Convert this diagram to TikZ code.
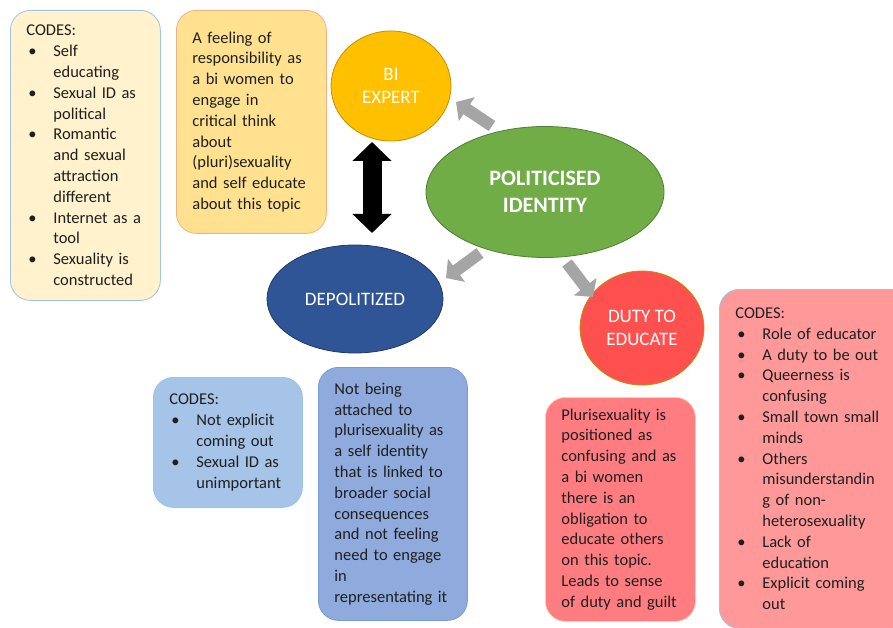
\documentclass[tikz,border=0pt]{standalone}
\usepackage{fontspec}
\setmainfont{Carlito}
\usetikzlibrary{shapes.geometric,arrows.meta}
\definecolor{txt}{HTML}{1F1F1F}
\definecolor{ylfill}{HTML}{FFF2CC}
\definecolor{lbborder}{HTML}{9DC3E6}
\definecolor{goldfill}{HTML}{FFE18F}
\definecolor{orborder}{HTML}{F4B183}
\definecolor{biexp}{HTML}{FFC000}
\definecolor{biexpb}{HTML}{BF9000}
\definecolor{polg}{HTML}{70AD47}
\definecolor{polgb}{HTML}{507E32}
\definecolor{depb}{HTML}{2F5597}
\definecolor{depbb}{HTML}{203864}
\definecolor{dutyr}{HTML}{FF5050}
\definecolor{blcodes}{HTML}{A6C4E8}
\definecolor{blnot}{HTML}{8FAADC}
\definecolor{blnotb}{HTML}{7A9AD6}
\definecolor{redbox}{HTML}{FF7C80}
\definecolor{redcodes}{HTML}{FF9999}
\definecolor{grayarr}{HTML}{A5A5A5}
\newcommand\bul{\makebox[27pt][l]{\hspace{2pt}\textbullet}}
\newcommand\ind{\hspace*{27pt}}
\tikzset{
  box/.style={rectangle, rounded corners=20pt, anchor=north west, align=left,
    inner xsep=16pt, inner ysep=4pt, text=txt, line width=0.8pt,
    font=\fontsize{16.5}{20.8}\selectfont},
  oval/.style={ellipse, inner sep=0pt, align=center, text=white, line width=0.8pt,
    font=\fontsize{19}{23}\selectfont},
  grayblock/.style={line width=12pt, draw=grayarr, -{Triangle[width=28pt,length=13pt]}},
  blackblock/.style={line width=19pt, draw=black, {Triangle[width=38pt,length=19pt]}-{Triangle[width=38pt,length=19pt]}}
}
\begin{document}
\begin{tikzpicture}[x=1pt,y=-1pt]
\useasboundingbox (0,0) rectangle (893,628);

% left codes box
\node[box, fill=ylfill, draw=lbborder, text width=118pt, minimum height=290pt] (codesL) at (10,10)
{CODES:\\
\bul Self\\ \ind educating\\
\bul Sexual ID as\\ \ind political\\
\bul Romantic\\ \ind and sexual\\ \ind attraction\\ \ind different\\
\bul Internet as a\\ \ind tool\\
\bul Sexuality is\\ \ind constructed};

% feeling box
\node[box, fill=goldfill, draw=orborder, text width=118pt, minimum height=223pt] (feel) at (176,10)
{A feeling of\\ responsibility as\\ a bi women to\\ engage in\\ critical think\\ about\\ (pluri)sexuality\\ and self educate\\ about this topic};

% ellipses
\node[oval, fill=biexp, draw=biexpb, minimum width=120pt, minimum height=110pt] (bi) at (391,86) {BI\\EXPERT};
\node[oval, fill=polg, draw=polgb, minimum width=238pt, minimum height=131pt,
  font=\fontsize{22}{27}\selectfont\bfseries] (pol) at (545,192) {POLITICISED\\IDENTITY};
\node[oval, fill=depb, draw=depbb, minimum width=176pt, minimum height=108pt] (dep) at (355,299) {DEPOLITIZED};
\node[oval, fill=dutyr, draw=biexpb, minimum width=124pt, minimum height=114pt] (duty) at (642,328) {DUTY TO\\EDUCATE};

% blue codes box
\node[box, fill=blcodes, draw=lbborder, text width=117pt, minimum height=130pt] (codesB) at (153,377)
{CODES:\\
\bul Not explicit\\ \ind coming out\\
\bul Sexual ID as\\ \ind unimportant};

% not being box
\node[box, fill=blnot, draw=blnotb, text width=117pt, minimum height=253pt] (notb) at (318,367)
{Not being\\ attached to\\ plurisexuality as\\ a self identity\\ that is linked to\\ broader social\\ consequences\\ and not feeling\\ need to engage\\ in\\ representating it};

% plurisexuality box
\node[box, fill=redbox, draw=orborder!60, text width=118pt, minimum height=224pt] (pluri) at (545,397)
{Plurisexuality is\\ positioned as\\ confusing and as\\ a bi women\\ there is an\\ obligation to\\ educate others\\ on this topic.\\ Leads to sense\\ of duty and guilt};

% red codes box
\node[box, fill=redcodes, draw=lbborder, text width=160pt, minimum height=339pt] (codesR) at (719,289)
{CODES:\\
\bul Role of educator\\
\bul A duty to be out\\
\bul Queerness is\\ \ind confusing\\
\bul Small town small\\ \ind minds\\
\bul Others\\ \ind misunderstandin\\ \ind g of non-\\ \ind heterosexuality\\
\bul Lack of\\ \ind education\\
\bul Explicit coming\\ \ind out};

% arrows
\coordinate (a1s) at (492,126); \coordinate (a1e) at (456,102);
\coordinate (a2s) at (480,253); \coordinate (a2e) at (446,278);
\coordinate (a3s) at (567,263); \coordinate (a3e) at (593,297);
\coordinate (b1s) at (372,142); \coordinate (b1e) at (372,233);
\draw[grayblock] (a1s) -- (a1e);
\draw[grayblock] (a2s) -- (a2e);
\draw[grayblock] (a3s) -- (a3e);
\draw[blackblock] (b1s) -- (b1e);
\end{tikzpicture}
\end{document}
